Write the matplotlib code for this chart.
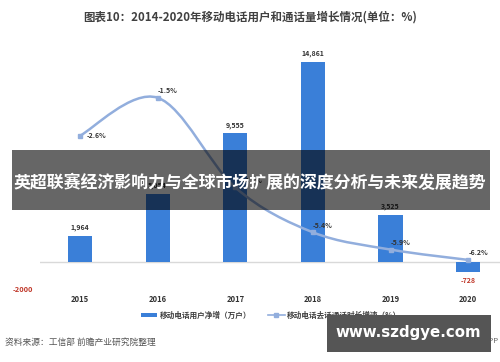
import matplotlib
matplotlib.use("Agg")
import matplotlib.pyplot as plt
from matplotlib.path import Path
from matplotlib.patches import PathPatch, Rectangle, Patch
from matplotlib.lines import Line2D
import numpy as np

plt.rcParams['font.family'] = ['Noto Sans CJK SC', 'DejaVu Sans']

years = ['2015', '2016', '2017', '2018', '2019', '2020']
net_adds = [1964, 5054, 9555, 14861, 3525, -728]          # 万户
growth = [-2.6, -1.5, -4.1, -5.4, -5.9, -6.2]             # %
bar_labels = ['1,964', '5,054', '9,555', '14,861', '3,525', '-728']
growth_labels = ['-2.6%', '-1.5%', '-4.1%', '-5.4%', '-5.9%', '-6.2%']

title = '图表10：2014-2020年移动电话用户和通话量增长情况(单位：%)'
legend_labels = ['移动电话用户净增（万户）', '移动电话去话通话时长增速（%）']
source = '资料来源：工信部 前瞻产业研究院整理'
banner = '英超联赛经济影响力与全球市场扩展的深度分析与未来发展趋势'
site = 'www.szdgye.com'

BAR = '#3a7fd8'
LINE = '#92aedd'

W, H = 500, 362
fig = plt.figure(figsize=(W / 100, H / 100), dpi=100)
fig.patch.set_facecolor('white')

def fx(px):
    return px / W

def fy(py):
    return 1 - py / H

ax = fig.add_axes([fx(40), fy(292), fx(460), (292 - 40) / H])
x = np.arange(len(years))
ax.set_xlim(-0.515, 5.41)
ax.set_ylim(-2229, 16495)
ax.bar(x, net_adds, width=0.31, color=BAR, zorder=2)
ax.axhline(0, color='#d9d9d9', lw=1, zorder=1)
for s in ax.spines.values():
    s.set_visible(False)
ax.set_xticks(x)
ax.set_xticklabels(years, fontsize=5.5, fontweight='bold', color='#333333')
ax.tick_params(axis='x', length=0, pad=2)
ax.set_yticks([-2000])
ax.set_yticklabels(['-2000'], fontsize=5.3, fontweight='bold', color='#c0392b')
ax.tick_params(axis='y', length=0, pad=5)

for xi, v, lab in zip(x, net_adds, bar_labels):
    if v >= 0:
        ax.annotate(lab, (xi, v), xytext=(0, 6), textcoords='offset points',
                    ha='center', va='center', fontsize=5, fontweight='bold', color='#333333')
    else:
        ax.annotate(lab, (xi, v), xytext=(0, -6), textcoords='offset points',
                    ha='center', va='center', fontsize=5, fontweight='bold', color='#c0392b')

ax2 = ax.twinx()
ax2.set_ylim(-7.130, 0.174)
ax2.set_axis_off()

# smooth (Excel-like) line through data points via cubic Bezier segments
P = np.column_stack([x, growth]).astype(float)
n = len(P)
verts = [tuple(P[0])]
codes = [Path.MOVETO]
for i in range(n - 1):
    p0 = P[i - 1] if i > 0 else P[i]
    p1 = P[i]
    p2 = P[i + 1]
    p3 = P[i + 2] if i + 2 < n else P[i + 1]
    c1 = p1 + (p2 - p0) / 6
    c2 = p2 - (p3 - p1) / 6
    verts += [tuple(c1), tuple(c2), tuple(p2)]
    codes += [Path.CURVE4] * 3
ax2.add_patch(PathPatch(Path(verts, codes), facecolor='none', edgecolor=LINE, lw=1.8, zorder=3))
ax2.plot(x, growth, linestyle='none', marker='s', markersize=3.5, color=LINE,
         markeredgecolor=LINE, zorder=4)

offsets = [(5, 0, 'left'), (0, 5, 'left'), (5, 5, 'left'), (0, 5, 'left'), (0, 5, 'left'), (0, 5, 'left')]
for xi, g, lab, (dx, dy, ha) in zip(x, growth, growth_labels, offsets):
    ax2.annotate(lab, (xi, g), xytext=(dx, dy), textcoords='offset points',
                 ha=ha, va='center', fontsize=5, fontweight='bold', color='#333333', zorder=5)

fig.text(0.5, fy(17), title, ha='center', va='center', fontsize=8.3,
         fontweight='bold', color='#404040')

handles = [Patch(facecolor=BAR, edgecolor='none'),
           Line2D([], [], color=LINE, lw=1.2, marker='s', markersize=2.5)]
fig.legend(handles, legend_labels, loc='center', bbox_to_anchor=(fx(271), fy(315)),
           ncol=2, frameon=False, prop={'size': 5.5, 'weight': 'bold'},
           handlelength=2.2, handleheight=0.5, columnspacing=2.2, handletextpad=0.3,
           labelcolor='#404040')

fig.text(fx(5), fy(342), source, ha='left', va='center', fontsize=6.3, color='#555555')
fig.text(fx(499), fy(341), '前瞻经济学人APP', ha='right', va='center', fontsize=5.5, color='#666666')

fig.patches.append(Rectangle((fx(12), fy(210)), fx(478), (210 - 150) / H,
                             transform=fig.transFigure, facecolor='black', alpha=0.6,
                             edgecolor='none', zorder=10))
fig.text(0.5, fy(183), banner, ha='center', va='center', fontsize=12.2,
         fontweight='bold', color='white', zorder=11)

fig.patches.append(Rectangle((fx(327), fy(352)), fx(164), (352 - 315) / H,
                             transform=fig.transFigure, facecolor='#555555',
                             edgecolor='none', zorder=10))
fig.text(fx(408), fy(333), site, ha='center', va='center', fontsize=10.8,
         fontweight='bold', color='white', family='DejaVu Sans', zorder=11)

fig.savefig('out.png', dpi=100, facecolor='white')
